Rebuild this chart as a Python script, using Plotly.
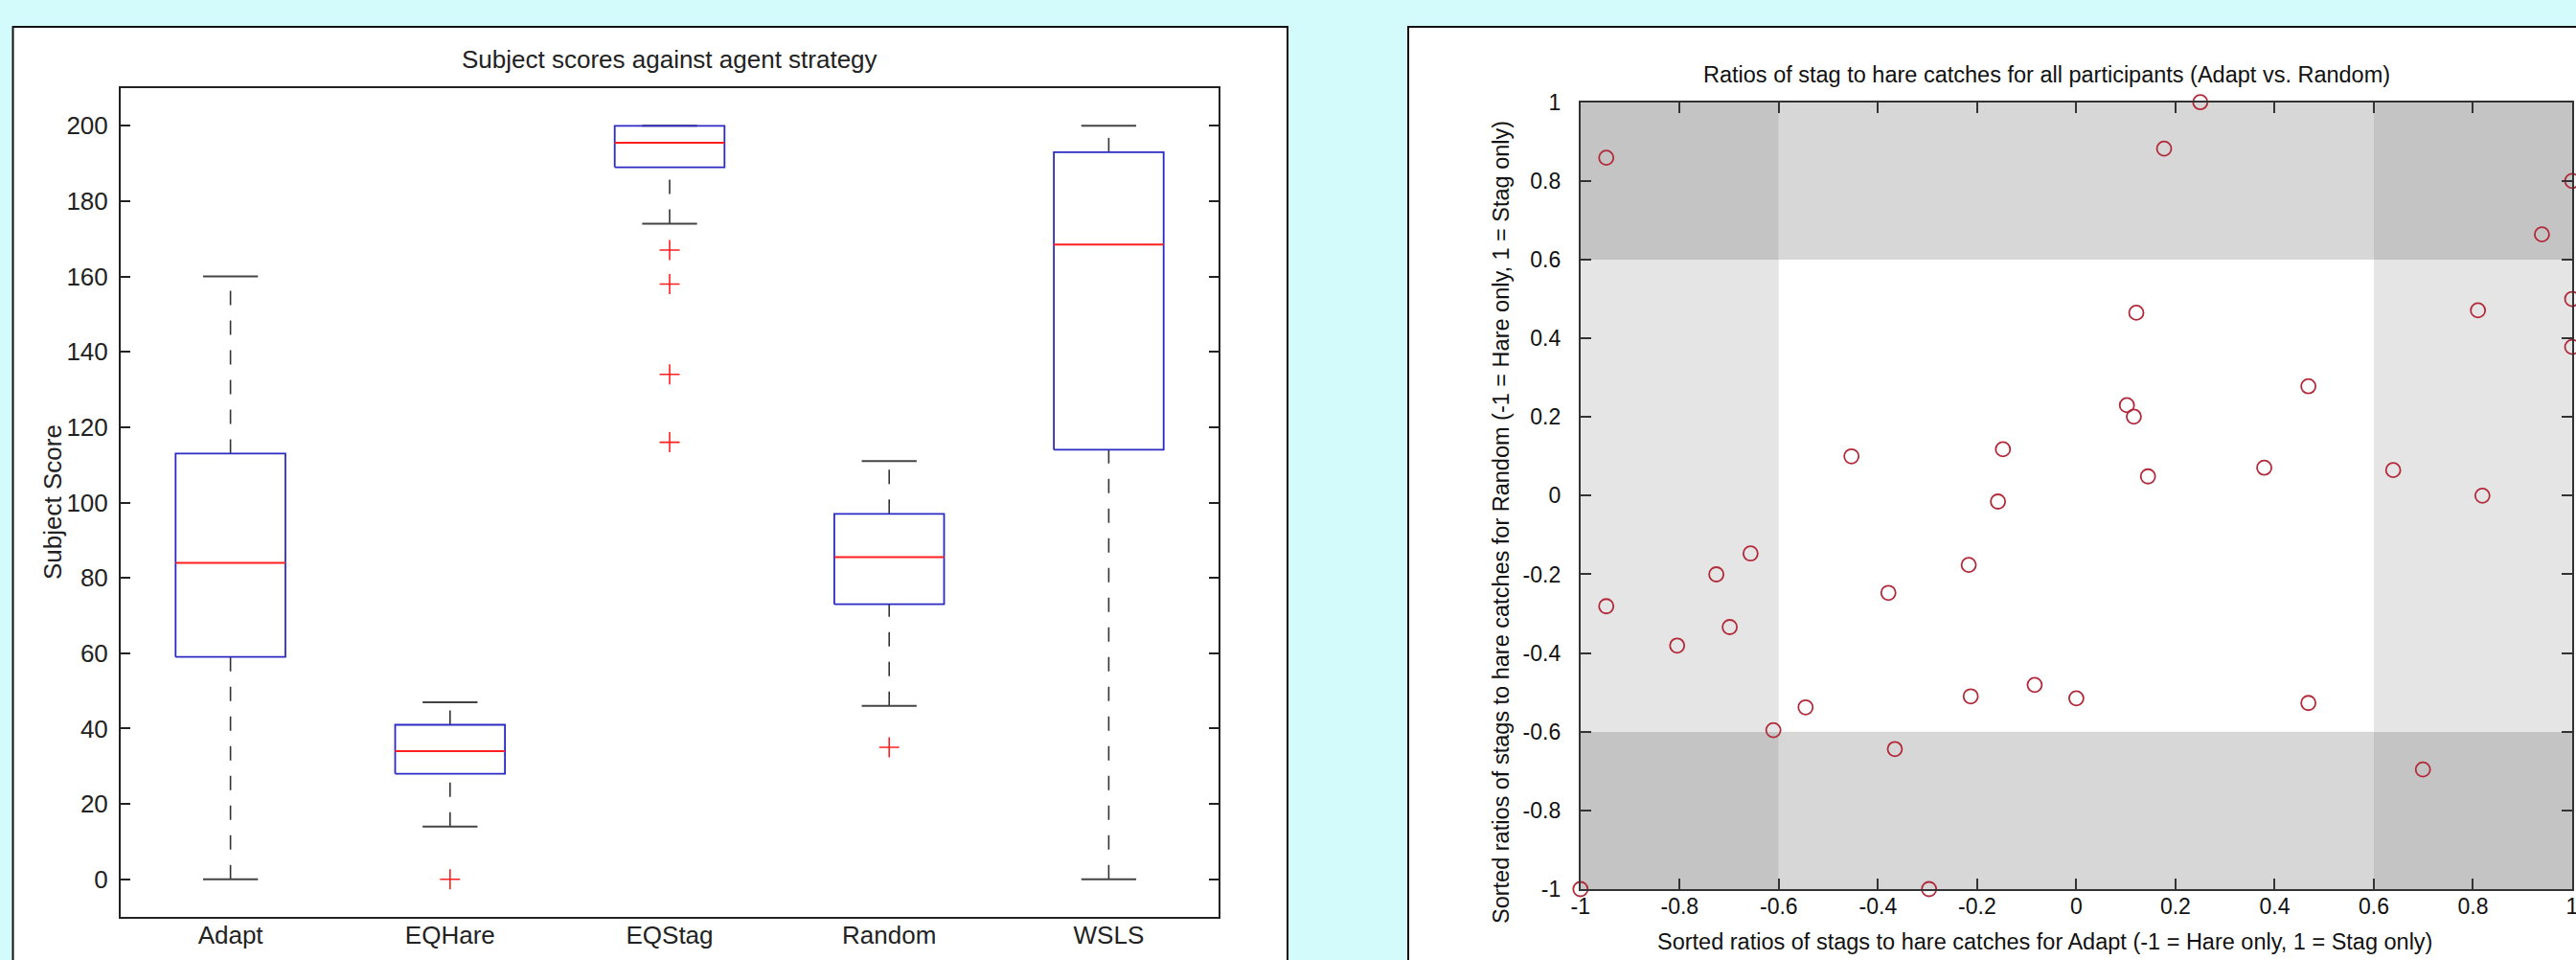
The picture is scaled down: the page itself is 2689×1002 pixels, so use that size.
import plotly.graph_objects as go

W, H = 2689, 1002

# ---------------- Left panel data (box plot summary statistics) ----------------
strategies = ["Adapt", "EQHare", "EQStag", "Random", "WSLS"]
lower_whisker = [0, 14, 174, 46, 0]
q1 = [59, 28, 189, 73, 114]
median = [84, 34, 195.5, 85.5, 168.5]
q3 = [113, 41, 200, 97, 193]
upper_whisker = [160, 47, 200, 111, 200]
outliers = [[], [0], [167, 158, 134, 116], [35], []]
score_ticks = [0, 20, 40, 60, 80, 100, 120, 140, 160, 180, 200]

# ---------------- Right panel data (scatter of ratios) ----------------
adapt_ratio = [-0.948, -0.4535, -0.148, 0.250, 0.177, 1.0, 0.939, 0.121, 0.810,
               1.0, 1.0, 0.468, 0.102, 0.116, 0.1445, 0.379, 0.639, 0.819,
               -0.158, -0.657, -0.217, -0.726, -0.948, -0.379, -0.699, -0.805,
               -0.084, -0.213, 0.0, -0.546, -0.611, -0.366, -1.0, -0.297,
               0.468, 0.699]
random_ratio = [0.859, 0.100, 0.118, 1.0, 0.882, 0.80, 0.664, 0.465, 0.471,
                0.50, 0.378, 0.278, 0.230, 0.201, 0.049, 0.071, 0.065, 0.0,
                -0.015, -0.147, -0.176, -0.200, -0.281, -0.247, -0.334, -0.381,
                -0.481, -0.510, -0.515, -0.538, -0.596, -0.644, -1.0, -1.0,
                -0.527, -0.696]
ratio_ticks = [-1, -0.8, -0.6, -0.4, -0.2, 0, 0.2, 0.4, 0.6, 0.8, 1]
ratio_tick_text = ["-1", "-0.8", "-0.6", "-0.4", "-0.2", "0", "0.2", "0.4", "0.6", "0.8", "1"]
THRESH = 0.6

BG = "#d3fbfc"
BOX_BLUE = "#2b2bc4"
MED_RED = "#ff1f1f"
WHISK = "#333333"
PT_RED = "#b22a3a"
FONT_L = "Liberation Sans, Arial, sans-serif"

fig = go.Figure()

# ---- left box plot drawn from statistics ----
BOX_HALF = 0.25
CAP_HALF = 0.125
for i, name in enumerate(strategies):
    xc = i + 1
    fig.add_trace(go.Scatter(x=[xc, xc], y=[lower_whisker[i], q1[i]], mode="lines",
                             line=dict(color=WHISK, width=1.6, dash="15px,16px"),
                             xaxis="x", yaxis="y", hoverinfo="skip", showlegend=False))
    fig.add_trace(go.Scatter(x=[xc, xc], y=[q3[i], upper_whisker[i]], mode="lines",
                             line=dict(color=WHISK, width=1.6, dash="15px,16px"),
                             xaxis="x", yaxis="y", hoverinfo="skip", showlegend=False))
    fig.add_trace(go.Scatter(x=[xc - CAP_HALF, xc + CAP_HALF, None, xc - CAP_HALF, xc + CAP_HALF],
                             y=[lower_whisker[i], lower_whisker[i], None, upper_whisker[i], upper_whisker[i]],
                             mode="lines", line=dict(color="#444444", width=2),
                             xaxis="x", yaxis="y", hoverinfo="skip", showlegend=False))
    fig.add_trace(go.Scatter(x=[xc - BOX_HALF, xc + BOX_HALF, xc + BOX_HALF, xc - BOX_HALF, xc - BOX_HALF],
                             y=[q1[i], q1[i], q3[i], q3[i], q1[i]], mode="lines",
                             line=dict(color=BOX_BLUE, width=1.8),
                             xaxis="x", yaxis="y", hoverinfo="skip", showlegend=False))
    fig.add_trace(go.Scatter(x=[xc - BOX_HALF, xc + BOX_HALF], y=[median[i], median[i]], mode="lines",
                             line=dict(color=MED_RED, width=2),
                             xaxis="x", yaxis="y", hoverinfo="skip", showlegend=False))
    if outliers[i]:
        fig.add_trace(go.Scatter(x=[xc] * len(outliers[i]), y=outliers[i], mode="markers",
                                 marker=dict(symbol="cross-thin", size=15, color=MED_RED,
                                             line=dict(color=MED_RED, width=1.6)),
                                 xaxis="x", yaxis="y", hoverinfo="skip", showlegend=False,
                                 cliponaxis=False))

# ---- right scatter ----
fig.add_trace(go.Scatter(x=adapt_ratio, y=random_ratio, mode="markers",
                         marker=dict(symbol="circle-open", size=15, color=PT_RED,
                                     line=dict(color=PT_RED, width=1.8)),
                         xaxis="x2", yaxis="y2", hoverinfo="skip", showlegend=False,
                         cliponaxis=False))

shapes = []
shapes.append(dict(type="rect", xref="paper", yref="paper",
                   x0=13.5 / W, x1=1344 / W, y0=-0.05, y1=1 - 28 / H,
                   fillcolor="white", line=dict(color="#111111", width=2), layer="below"))
shapes.append(dict(type="rect", xref="paper", yref="paper",
                   x0=1470 / W, x1=1.05, y0=-0.05, y1=1 - 28 / H,
                   fillcolor="white", line=dict(color="#111111", width=2), layer="below"))

bins = [(-1, -THRESH, True), (-THRESH, THRESH, False), (THRESH, 1, True)]
for (xa, xb, xo) in bins:
    for (ya, yb, yo) in bins:
        if xo and yo:
            col = "#c4c4c4"
        elif yo:
            col = "#d7d7d7"
        elif xo:
            col = "#e5e5e5"
        else:
            continue
        shapes.append(dict(type="rect", xref="x2", yref="y2", x0=xa, x1=xb, y0=ya, y1=yb,
                           fillcolor=col, line=dict(width=0), layer="below"))

annotations = [
    dict(text="Subject scores against agent strategy", xref="paper", yref="paper",
         x=699 / W, y=1 - 62 / H, showarrow=False, xanchor="center", yanchor="middle",
         font=dict(family=FONT_L, size=26, color="#222222")),
    dict(text="Subject Score", xref="paper", yref="paper",
         x=55 / W, y=1 - 524 / H, showarrow=False, xanchor="center", yanchor="middle",
         textangle=-90, font=dict(family=FONT_L, size=26, color="#222222")),
    dict(text="Ratios of stag to hare catches for all participants (Adapt vs. Random)",
         xref="paper", yref="paper", x=2136 / W, y=1 - 78 / H, showarrow=False,
         xanchor="center", yanchor="middle",
         font=dict(family=FONT_L, size=23.5, color="#111111")),
    dict(text="Sorted ratios of stags to hare catches for Adapt (-1 = Hare only, 1 = Stag only)",
         xref="paper", yref="paper", x=2134 / W, y=1 - 983 / H, showarrow=False,
         xanchor="center", yanchor="middle",
         font=dict(family=FONT_L, size=23.5, color="#111111")),
    dict(text="Sorted ratios of stags to hare catches for Random (-1 = Hare only, 1 = Stag only)",
         xref="paper", yref="paper", x=1567 / W, y=1 - 545 / H, showarrow=False,
         xanchor="center", yanchor="middle", textangle=-90,
         font=dict(family=FONT_L, size=23.5, color="#111111")),
]

fig.update_layout(
    width=W, height=H, autosize=False,
    margin=dict(l=0, r=0, t=0, b=0, pad=0),
    paper_bgcolor=BG, plot_bgcolor="white",
    shapes=shapes, annotations=annotations,
    xaxis=dict(domain=[126 / W, 1272 / W], range=[0.5, 5.5], anchor="y", automargin=False,
               tickvals=[1, 2, 3, 4, 5], ticktext=strategies, ticks="",
               showline=True, mirror=True, linecolor="#222222", linewidth=2,
               showgrid=False, zeroline=False, ticklabelstandoff=-5,
               tickfont=dict(family=FONT_L, size=26, color="#222222")),
    yaxis=dict(domain=[1 - 957 / H, 1 - 92 / H], range=[-10, 210], anchor="x", automargin=False,
               tickvals=score_ticks, ticks="inside", ticklen=10, tickwidth=2, tickcolor="#222222",
               showline=True, mirror="ticks", linecolor="#222222", linewidth=2,
               showgrid=False, zeroline=False, ticklabelstandoff=6,
               tickfont=dict(family=FONT_L, size=26, color="#222222")),
    xaxis2=dict(domain=[1649.8 / W, 2685 / W], range=[-1, 1], anchor="y2", automargin=False,
                tickvals=ratio_ticks, ticktext=ratio_tick_text, ticklabeloverflow="allow",
                ticks="inside", ticklen=11, tickwidth=2, tickcolor="#333333",
                showline=True, mirror="ticks", linecolor="#333333", linewidth=2,
                showgrid=False, zeroline=False, ticklabelstandoff=-4,
                tickfont=dict(family=FONT_L, size=23, color="#111111")),
    yaxis2=dict(domain=[1 - 928 / H, 1 - 106.7 / H], range=[-1, 1], anchor="x2", automargin=False,
                tickvals=ratio_ticks, ticktext=ratio_tick_text, ticklabeloverflow="allow",
                ticks="inside", ticklen=11, tickwidth=2, tickcolor="#333333",
                showline=True, mirror="ticks", linecolor="#333333", linewidth=2,
                showgrid=False, zeroline=False, ticklabelstandoff=14,
                tickfont=dict(family=FONT_L, size=23, color="#111111")),
)

fig.write_html("out.html", config={"displayModeBar": False},
               post_script="document.body.style.margin='0';document.body.style.background='" + BG + "';")
